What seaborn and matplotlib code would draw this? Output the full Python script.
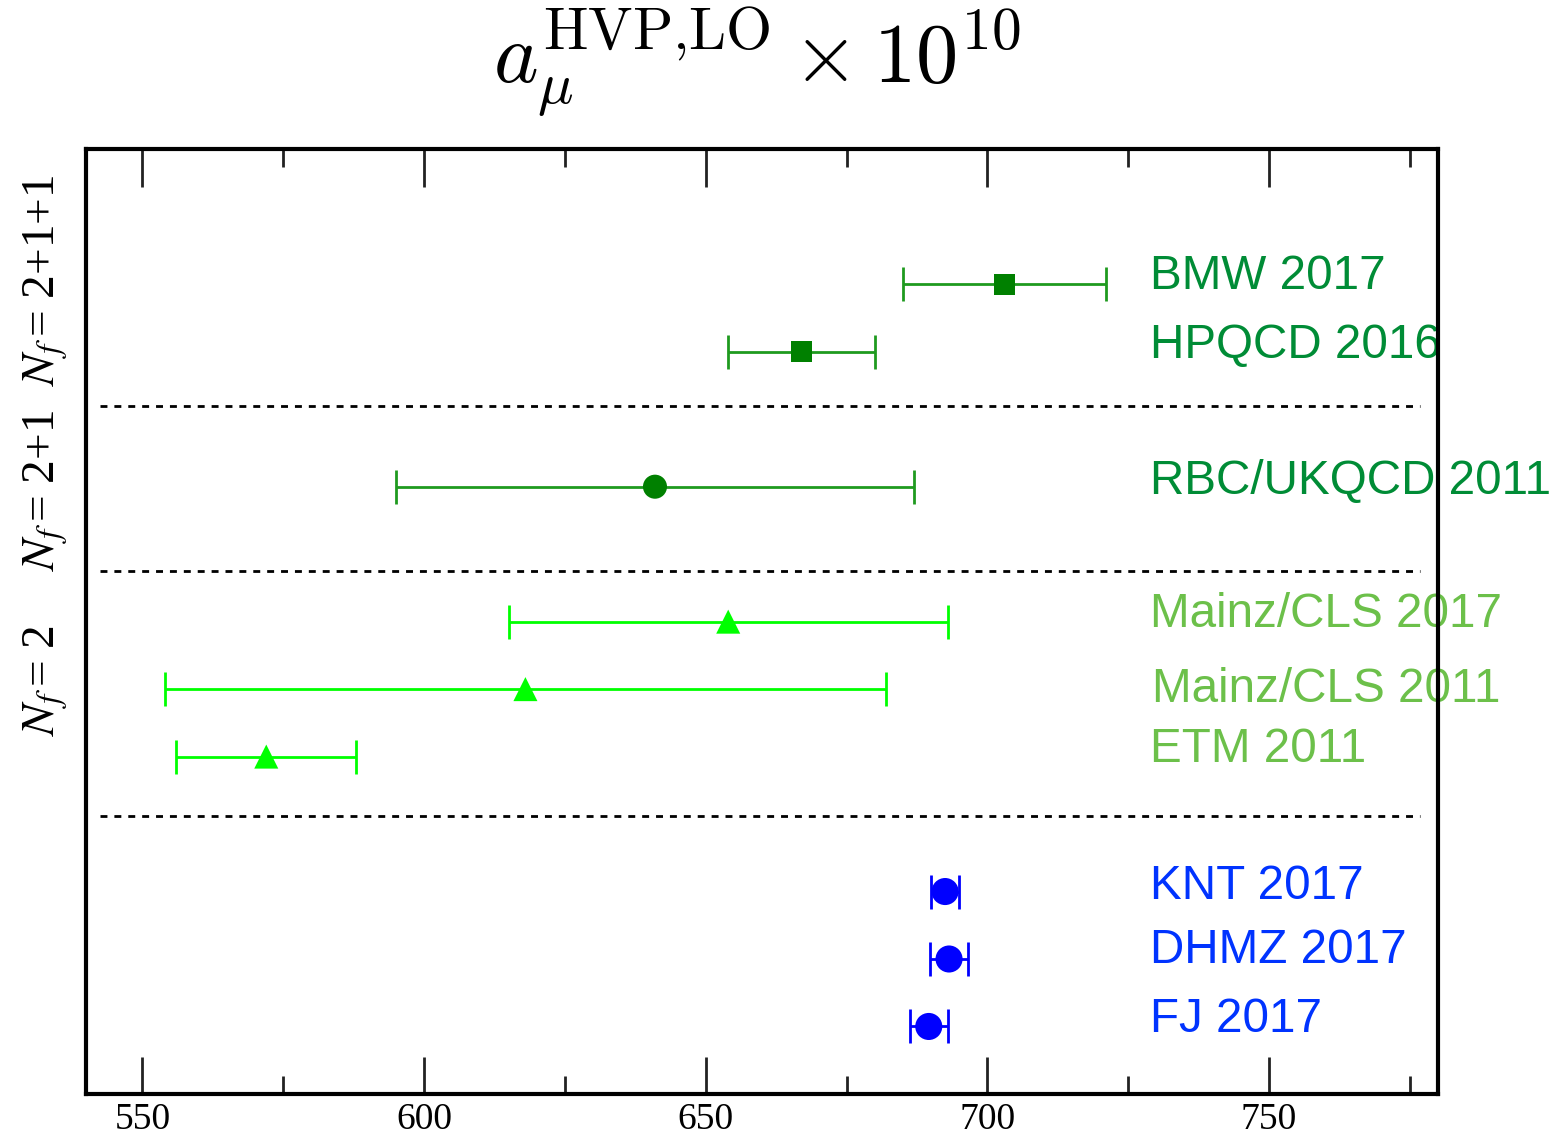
import matplotlib
matplotlib.use("Agg")
import matplotlib.pyplot as plt
import seaborn as sns
import pandas as pd
import numpy as np

# ---- data ----
labels = ["BMW 2017", "HPQCD 2016", "RBC/UKQCD 2011", "Mainz/CLS 2017",
          "Mainz/CLS 2011", "ETM 2011", "KNT 2017", "DHMZ 2017", "FJ 2017"]
values = [703.0, 667.0, 641.0, 654.0, 618.0, 572.0, 692.5, 693.2, 689.6]
errors = [18.0, 13.0, 46.0, 39.0, 64.0, 16.0, 2.5, 3.4, 3.4]
ypos = [12.0, 11.0, 9.0, 7.0, 6.0, 5.0, 3.0, 2.0, 1.0]
groups = ["nf211", "nf211", "nf21", "nf2", "nf2", "nf2", "pheno", "pheno", "pheno"]
label_dy = [0.12, 0.09, 0.07, 0.1, 0.0, 0.1, 0.07, 0.13, 0.1]
separators = [10.2, 7.75, 4.12]
nf_labels = [r"$N_f\,$= 2+1+1", r"$N_f\,$= 2+1", r"$N_f\,$= 2"]
nf_ypos = [12.06, 8.95, 6.13]

marker_map = {"nf211": "s", "nf21": "o", "nf2": "^", "pheno": "o"}
marker_color = {"nf211": "#008000", "nf21": "#008000", "nf2": "#00ff00", "pheno": "#0000ff"}
bar_color = {"nf211": "#1f9a1f", "nf21": "#1f9a1f", "nf2": "#00ff00", "pheno": "#0000ff"}
text_color = {"nf211": "#008c36", "nf21": "#008c36", "nf2": "#6cc04a", "pheno": "#0033ff"}
marker_size = {"nf211": 220, "nf21": 300, "nf2": 300, "pheno": 380}

df = pd.DataFrame({"label": labels, "value": values, "err": errors,
                   "y": ypos, "group": groups})

sns.set_theme(style="white")
plt.rcParams["mathtext.fontset"] = "stix"
plt.rcParams["font.family"] = ["Liberation Serif", "DejaVu Serif"]
plt.rcParams["text.color"] = "black"
plt.rcParams["xtick.color"] = "black"
plt.rcParams["xtick.labelcolor"] = "black"

fig = plt.figure(figsize=(15.58, 11.4), dpi=100)
ax = fig.add_axes([0.0552, 0.0404, 0.8678, 0.8286])

for g, sub in df.groupby("group"):
    ax.errorbar(sub["value"], sub["y"], xerr=sub["err"], fmt="none",
                ecolor=bar_color[g], elinewidth=2, capsize=12, capthick=2, zorder=3)

sns.scatterplot(data=df, x="value", y="y", hue="group", style="group",
                palette=marker_color, markers=marker_map,
                size="group", sizes=marker_size,
                edgecolor="none", legend=False, ax=ax, zorder=4)

for yy in separators:
    ax.plot([542.5, 776.8], [yy, yy], color="black", lw=2,
            linestyle=(0, (2.5, 2.5)), zorder=2)

for lab, yy, g, dy in zip(labels, ypos, groups, label_dy):
    xx = 728.8 if lab != "Mainz/CLS 2011" else 729.3
    ax.text(xx, yy + dy, lab, color=text_color[g], fontsize=34.3,
            family=["Liberation Sans", "DejaVu Sans"],
            ha="left", va="center", clip_on=False, zorder=1)

for lab, yy in zip(nf_labels, nf_ypos):
    ax.text(532.8, yy, lab, rotation=90, fontsize=34, ha="center", va="center",
            clip_on=False, color="black")

ax.set_xlim(540, 780)
ax.set_ylim(0, 14)
ax.set_xlabel("")
ax.set_ylabel("")
ax.set_yticks([])
ax.set_xticks([550, 600, 650, 700, 750])
ax.set_xticks([575, 625, 675, 725, 775], minor=True)
ax.tick_params(axis="x", which="major", direction="in", length=27, width=2,
               top=True, bottom=True, labelsize=27, pad=6, color="#222222",
               labelcolor="black")
ax.tick_params(axis="x", which="minor", direction="in", length=13, width=2,
               top=True, bottom=True, color="#222222")
for sp in ax.spines.values():
    sp.set_linewidth(3)
    sp.set_color("black")
    sp.set_zorder(5)

fig.text(0.486, 0.945, r"$a_\mu^{\rm HVP{,}LO}\times 10^{10}$", fontsize=61,
         ha="center", va="center", math_fontfamily="cm", color="black")

fig.savefig("out.png", dpi=100)
